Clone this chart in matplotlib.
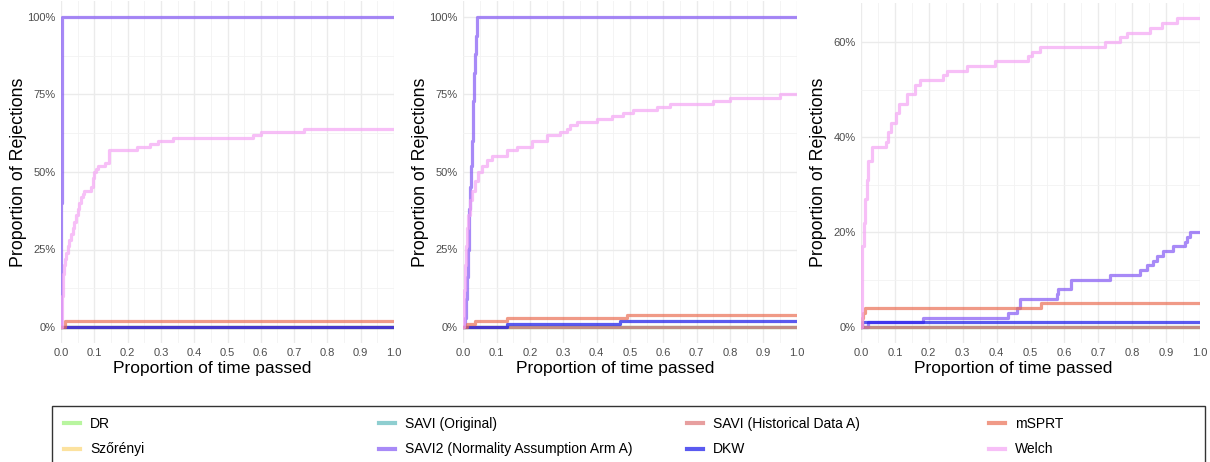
import matplotlib
matplotlib.use("Agg")
import matplotlib.pyplot as plt
from matplotlib.ticker import PercentFormatter, MultipleLocator
from matplotlib.patches import Rectangle

plt.rcParams['font.family'] = ['Liberation Sans', 'DejaVu Sans']

# methods, in legend order (column by column)
methods = ["DR", "Szőrényi", "SAVI (Original)", "SAVI2 (Normality Assumption Arm A)",
           "SAVI (Historical Data A)", "DKW", "mSPRT", "Welch"]
colors = ["#9af177", "#fcd777", "#5fbabc", "#8458f5",
          "#de7777", "#1414ea", "#ea6f55", "#f5a5f5"]

zero_t = [0.0, 1.0]
zero_y = [0, 0]

# ---------- panel 1 ----------
p1_savi2_t = [0.0, 0.001, 0.002, 0.003, 1.0]
p1_savi2_y = [0, 40, 90, 100, 100]
p1_msprt_t = [0.0, 0.012, 1.0]
p1_msprt_y = [0, 2, 2]
p1_welch_t = [0, 0.003, 0.005, 0.008, 0.012, 0.016, 0.02, 0.025, 0.03, 0.035, 0.04, 0.045,
              0.05, 0.055, 0.06, 0.065, 0.07, 0.09, 0.095, 0.1, 0.105, 0.11, 0.132, 0.144,
              0.227, 0.267, 0.292, 0.337, 0.577, 0.6, 0.73, 1.0]
p1_welch_y = [0, 10, 17, 20, 22, 24, 26, 28, 30, 32, 34, 36, 38, 40, 42, 43, 44, 45, 48, 50,
              51, 52, 53, 57, 58, 59, 60, 61, 62, 63, 64, 64]

# ---------- panel 2 ----------
p2_savi2_t = [0.0, 0.004, 0.007, 0.01, 0.013, 0.016, 0.018, 0.021, 0.023, 0.026, 0.028,
              0.03, 0.032, 0.035, 0.037, 0.04, 0.042, 1.0]
p2_savi2_y = [0, 3, 9, 16, 25, 31, 38, 45, 52, 60, 67, 73, 82, 88, 94, 97, 100, 100]
p2_msprt_t = [0.0, 0.01, 0.035, 0.13, 0.49, 1.0]
p2_msprt_y = [0, 1, 2, 3, 4, 4]
p2_dkw_t = [0.0, 0.13, 0.47, 1.0]
p2_dkw_y = [0, 1, 2, 2]
p2_welch_t = [0, 0.003, 0.005, 0.008, 0.012, 0.015, 0.02, 0.025, 0.035, 0.045, 0.055, 0.07,
              0.085, 0.13, 0.16, 0.205, 0.25, 0.29, 0.31, 0.32, 0.34, 0.4, 0.445, 0.478,
              0.51, 0.58, 0.62, 0.75, 0.8, 0.95, 1.0]
p2_welch_y = [0, 12, 20, 26, 32, 36, 41, 44, 47, 50, 52, 54, 55, 57, 58, 60, 62, 63, 64, 65,
              66, 67, 68, 69, 70, 71, 72, 73, 74, 75, 75]

# ---------- panel 3 ----------
p3_savi2_t = [0.0, 0.02, 0.184, 0.435, 0.459, 0.47, 0.577, 0.582, 0.62, 0.735, 0.823, 0.843,
              0.862, 0.872, 0.892, 0.921, 0.956, 0.961, 0.971, 1.0]
p3_savi2_y = [0, 1, 2, 3, 4, 6, 7, 8, 10, 11, 12, 13, 14, 15, 16, 17, 18, 19, 20, 20]
p3_msprt_t = [0.0, 0.003, 0.007, 0.012, 0.53, 1.0]
p3_msprt_y = [0, 2, 3, 4, 5, 5]
p3_dkw_t = [0.0, 0.004, 1.0]
p3_dkw_y = [0, 1, 1]
p3_welch_t = [0, 0.002, 0.004, 0.008, 0.012, 0.017, 0.022, 0.031, 0.074, 0.081, 0.088, 0.103,
              0.113, 0.135, 0.159, 0.174, 0.243, 0.253, 0.312, 0.395, 0.494, 0.503, 0.528,
              0.72, 0.764, 0.784, 0.853, 0.887, 0.931, 1.0]
p3_welch_y = [0, 8, 17, 22, 27, 31, 35, 38, 39, 41, 43, 45, 47, 49, 51, 52, 53, 54, 55, 56,
              57, 58, 59, 60, 61, 62, 63, 64, 65, 65]

panels = [
    {"SAVI2 (Normality Assumption Arm A)": (p1_savi2_t, p1_savi2_y),
     "mSPRT": (p1_msprt_t, p1_msprt_y),
     "Welch": (p1_welch_t, p1_welch_y)},
    {"SAVI2 (Normality Assumption Arm A)": (p2_savi2_t, p2_savi2_y),
     "mSPRT": (p2_msprt_t, p2_msprt_y),
     "DKW": (p2_dkw_t, p2_dkw_y),
     "Welch": (p2_welch_t, p2_welch_y)},
    {"SAVI2 (Normality Assumption Arm A)": (p3_savi2_t, p3_savi2_y),
     "mSPRT": (p3_msprt_t, p3_msprt_y),
     "DKW": (p3_dkw_t, p3_dkw_y),
     "Welch": (p3_welch_t, p3_welch_y)},
]
ymax = [100, 100, 65]
ymajor = [25, 25, 20]

W, H = 1210, 462
fig = plt.figure(figsize=(W / 100, H / 100), dpi=100)
boxes = [(61, 394), (463.3, 796.7), (861, 1200)]
xlab_shift = [15, 15, 17]   # x title is centred over panel + y tick labels

handles = {}
for i, data in enumerate(panels):
    x0, x1 = boxes[i]
    top = 1.5 if ymax[i] == 100 else 3
    ax = fig.add_axes([x0 / W, 1 - 342.5 / H, (x1 - x0) / W, (342.5 - top) / H])
    for m, c in zip(methods, colors):
        t, y = data.get(m, (zero_t, zero_y))
        ln, = ax.step(t, y, where="post", color=c, lw=2.3, alpha=0.7, label=m)
        handles[m] = ln
    pad = ymax[i] * 0.05
    ax.set_ylim(-pad, ymax[i] + pad)
    ax.set_xlim(0, 1)
    ax.xaxis.set_major_locator(MultipleLocator(0.1))
    ax.xaxis.set_minor_locator(MultipleLocator(0.05))
    ax.yaxis.set_major_locator(MultipleLocator(ymajor[i]))
    ax.yaxis.set_minor_locator(MultipleLocator(ymajor[i] / 2))
    ax.yaxis.set_major_formatter(PercentFormatter(xmax=100, decimals=0))
    ax.xaxis.set_major_formatter(lambda v, p: f"{v:.1f}")
    ax.grid(which="major", color="#ebebeb", lw=1.0)
    ax.grid(which="minor", color="#f2f2f2", lw=0.6)
    ax.set_axisbelow(True)
    for s in ax.spines.values():
        s.set_visible(False)
    ax.tick_params(which="both", length=0, labelsize=8, labelcolor="#4d4d4d", pad=4)
    ax.set_xlabel("Proportion of time passed", fontsize=12.5)
    ax.set_ylabel("Proportion of Rejections", fontsize=12.8)
    ax.xaxis.set_label_coords(0.5 - xlab_shift[i] / (x1 - x0), -0.055)
    ax.yaxis.set_label_coords(-34 / (x1 - x0), 0.5)

# legend box (bottom edge runs off the figure)
fig.patches.append(Rectangle((52 / W, -0.05), (1205 - 52) / W, 0.05 + 1 - 406 / H,
                             transform=fig.transFigure, fill=False, edgecolor="#333333", lw=1))
col_x = [58, 373, 681, 983]
for k in range(4):
    hs = [handles[methods[2 * k]], handles[methods[2 * k + 1]]]
    leg = fig.legend(hs, [h.get_label() for h in hs], loc="upper left",
                     bbox_to_anchor=(col_x[k] / W, 1 - 411 / H), frameon=False,
                     fontsize=10, handlelength=1.2, handletextpad=0.7, labelspacing=0.85,
                     borderaxespad=0)
    for ln in leg.get_lines():
        ln.set_linewidth(3)

fig.savefig("out.png", dpi=100)
